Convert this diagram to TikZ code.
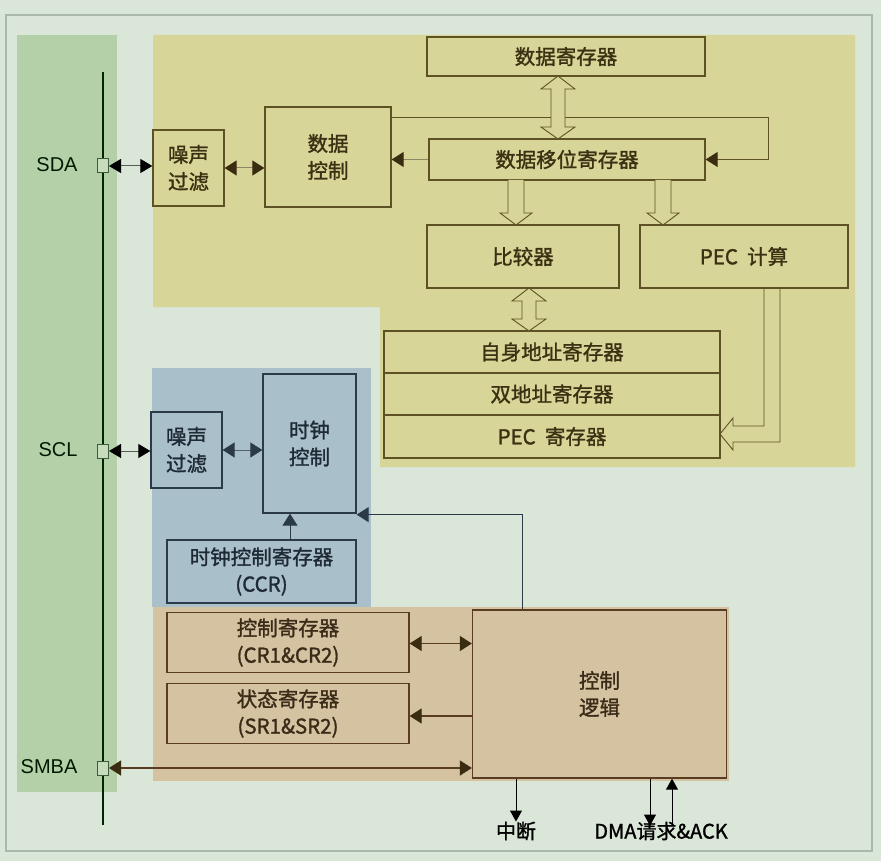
\documentclass[tikz,border=0pt]{standalone}
\usepackage{fontspec}
\newfontfamily\cjk[FakeBold=1.3]{Noto Sans CJK SC}
\newfontfamily\labf{Liberation Sans}
\usetikzlibrary{arrows.meta,calc}
\definecolor{bgc}{HTML}{DAE6D8}
\definecolor{framec}{HTML}{A9B8A9}
\definecolor{greenc}{HTML}{B4D0A8}
\definecolor{pinc}{HTML}{C6DCBB}
\definecolor{pinb}{HTML}{3C5A3C}
\definecolor{yfill}{HTML}{D8D598}
\definecolor{ybd}{HTML}{5E5224}
\definecolor{ytx}{HTML}{3A3012}
\definecolor{bfill}{HTML}{A9BFC9}
\definecolor{bbd}{HTML}{2B3A48}
\definecolor{btx}{HTML}{1E2A36}
\definecolor{rfill}{HTML}{D4C2A0}
\definecolor{rbd}{HTML}{5A3C22}
\definecolor{rtx}{HTML}{3A2A18}
\definecolor{headc}{HTML}{3A2C10}
\definecolor{thinc}{HTML}{8A8A62}
\tikzset{
  boxtext/.style={font=\cjk\fontsize{20.5}{27}\selectfont, align=center, inner sep=0pt},
  ybox/.style={boxtext, draw=ybd, line width=1.3pt, fill=yfill, text=ytx},
  bbox/.style={boxtext, draw=bbd, line width=1.3pt, fill=bfill, text=btx},
  rbox/.style={boxtext, draw=rbd, line width=1.3pt, fill=rfill, text=rtx},
  pin/.style={draw=pinb, fill=pinc, line width=1pt, minimum width=11pt, minimum height=14pt, inner sep=0pt},
  buslabel/.style={font=\labf\fontsize{20}{24}\selectfont, text=black!75!green!40!black},
  blk/.style={{Triangle[length=12pt,width=14pt,color=black]}-{Triangle[length=12pt,width=14pt,color=black]}, draw=gray!70!black, line width=1pt},
  ydbl/.style={{Triangle[length=12pt,width=15pt,color=headc]}-{Triangle[length=12pt,width=15pt,color=headc]}, draw=ybd!70, line width=1pt},
  yone/.style={-{Triangle[length=12pt,width=15pt,color=headc]}, line width=1pt},
  bdbl/.style={{Triangle[length=12pt,width=15pt,color=bbd]}-{Triangle[length=12pt,width=15pt,color=bbd]}, draw=bbd!80, line width=1pt},
  bone/.style={-{Triangle[length=12pt,width=15pt,color=bbd]}, draw=bbd, line width=1pt},
  rdbl/.style={{Triangle[length=12pt,width=15pt,color=headc]}-{Triangle[length=12pt,width=15pt,color=headc]}, draw=rbd, line width=1.3pt},
  rone/.style={-{Triangle[length=12pt,width=15pt,color=headc]}, draw=rbd, line width=1.3pt},
  kone/.style={-{Triangle[length=11pt,width=12pt,color=black]}, draw=black, line width=1pt},
  harrow/.style={draw=ybd, fill=yfill, line width=0.9pt, line join=miter},
  outtext/.style={font=\cjk\fontsize{20}{24}\selectfont, text=black, inner sep=0pt}
}
\newcommand\hdarrowv[3]{% x, ytop, ybottom : hollow double vertical arrow
  \filldraw[harrow] (#1,#2) -- (#1+17,#2+13) -- (#1+7,#2+13) -- (#1+7,#3-12)
    -- (#1+17,#3-12) -- (#1,#3) -- (#1-17,#3-12) -- (#1-7,#3-12) -- (#1-7,#2+13)
    -- (#1-17,#2+13) -- cycle;}
\newcommand\hsarrowd[3]{% x, ytop, ybottom : hollow single arrow pointing down
  \filldraw[harrow] (#1-8,#2) -- (#1-8,#3-12) -- (#1-16,#3-12) -- (#1,#3)
    -- (#1+16,#3-12) -- (#1+8,#3-12) -- (#1+8,#2);}
\begin{document}
\begin{tikzpicture}[x=1pt,y=-1pt]
\useasboundingbox (0,0) rectangle (881,861);
\fill[bgc] (0,0) rectangle (881,861);
\draw[framec, line width=1.6pt] (6,15) rectangle (872,851);
% regions
\fill[greenc] (17,35) rectangle (117,792);
\fill[yfill] (153,35) -- (855,35) -- (855,467) -- (380,467) -- (380,307) -- (153,307) -- cycle;
\fill[bfill] (152,368) rectangle (371,607);
\fill[rfill] (153,607) rectangle (729,781);
% bus
\coordinate (busT) at (103,72);
\coordinate (busB) at (103,825);
\draw[line width=2pt, black!85!green] (busT) -- (busB);
\node[pin] (sda) at (103,166) {};
\node[pin] (scl) at (103,451) {};
\node[pin] (smba) at (103,768) {};
\node[buslabel] at (57,165) {SDA};
\node[buslabel] at (58,450) {SCL};
\node[buslabel] at (49,767) {SMBA};
% yellow boxes
\node[ybox, minimum width=278pt, minimum height=39pt] (dreg) at (566,56.5) {数据寄存器};
\node[ybox, minimum width=276pt, minimum height=41pt] (dsr) at (567,159.5) {数据移位寄存器};
\node[ybox, minimum width=192pt, minimum height=63pt] (cmp) at (523,256.5) {比较器};
\node[ybox, minimum width=208pt, minimum height=63pt] (pecc) at (744,256.5) {PEC\ \ 计算};
\node[ybox, minimum width=336pt, minimum height=42pt] (own) at (552,352) {自身地址寄存器};
\node[ybox, minimum width=336pt, minimum height=42pt] (dual) at (552,394) {双地址寄存器};
\node[ybox, minimum width=336pt, minimum height=43pt] (pecr) at (552,436.5) {PEC\ \ 寄存器};
\node[ybox, minimum width=71pt, minimum height=76pt] (nf1) at (188.5,168) {噪声\\过滤};
\node[ybox, minimum width=126pt, minimum height=100pt] (dctl) at (328,157) {数据\\控制};
% blue boxes
\node[bbox, minimum width=71pt, minimum height=76pt] (nf2) at (186.5,450) {噪声\\过滤};
\node[bbox, minimum width=93pt, minimum height=139pt] (cctl) at (309.5,443.5) {时钟\\控制};
\node[bbox, minimum width=189pt, minimum height=63pt] (ccr) at (261.5,571.5) {时钟控制寄存器\\(CCR)};
% brown boxes
\node[rbox, minimum width=242pt, minimum height=60pt] (creg) at (288,642.5) {控制寄存器\\(CR1\&CR2)};
\node[rbox, minimum width=242pt, minimum height=60pt] (sreg) at (288,713.5) {状态寄存器\\(SR1\&SR2)};
\node[rbox, minimum width=254pt, minimum height=168pt] (logic) at (599.5,694) {控制\\逻辑};
% outputs
\node[outtext] (int) at (516,831) {中断};
\node[outtext] (dma) at (661,831) {DMA请求\&ACK};
% SDA path connectors
\draw[blk] (sda.east) -- (sda.east -| nf1.west);
\draw[ydbl] (nf1.east) -- (nf1.east -| dctl.west);
\draw[yone, draw=thinc] (dsr.west) -- (dsr.west -| dctl.east);
\draw[yone, draw=ybd] ([yshift=-11pt]dctl.north east) -- ++(377,0) |- (dsr.east);
% hollow arrows
\hdarrowv{558}{76}{139}
\hsarrowd{516}{180}{225}
\hsarrowd{663}{180}{225}
\hdarrowv{529}{288}{331}
\draw[harrow, fill=none] (764,288) -- (764,426) -- (733,426) -- (733,418) -- (720,434)
  -- (733,450) -- (733,442) -- (780,442) -- (780,288);
% SCL path connectors
\draw[blk] (scl.east) -- (scl.east -| nf2.west);
\draw[bdbl] (nf2.east) -- (nf2.east -| cctl.west);
\draw[bone] ([xshift=28.5pt]ccr.north) -- ([xshift=28.5pt]ccr.north |- cctl.south);
\draw[bone] ([xshift=-77.5pt]logic.north) |- ([yshift=-1pt]cctl.south east);
% control logic connectors
\draw[rdbl] ([yshift=-1pt]creg.east) -- ([yshift=-1pt]creg.east -| logic.west);
\draw[rone] ([yshift=-2.5pt]sreg.east -| logic.west) -- ([yshift=-2.5pt]sreg.east);
\draw[rdbl] (smba.east) -- (smba.east -| logic.west);
\draw[kone] ([xshift=-83.5pt]logic.south) -- ([xshift=-83.5pt]logic.south |- int.north);
\draw[kone] ([xshift=50.5pt]logic.south) -- ([xshift=50.5pt,yshift=-4pt]logic.south |- dma.north);
\draw[kone] ([xshift=72.5pt,yshift=-4pt]logic.south |- dma.north) -- ([xshift=72.5pt]logic.south);
\end{tikzpicture}
\end{document}
